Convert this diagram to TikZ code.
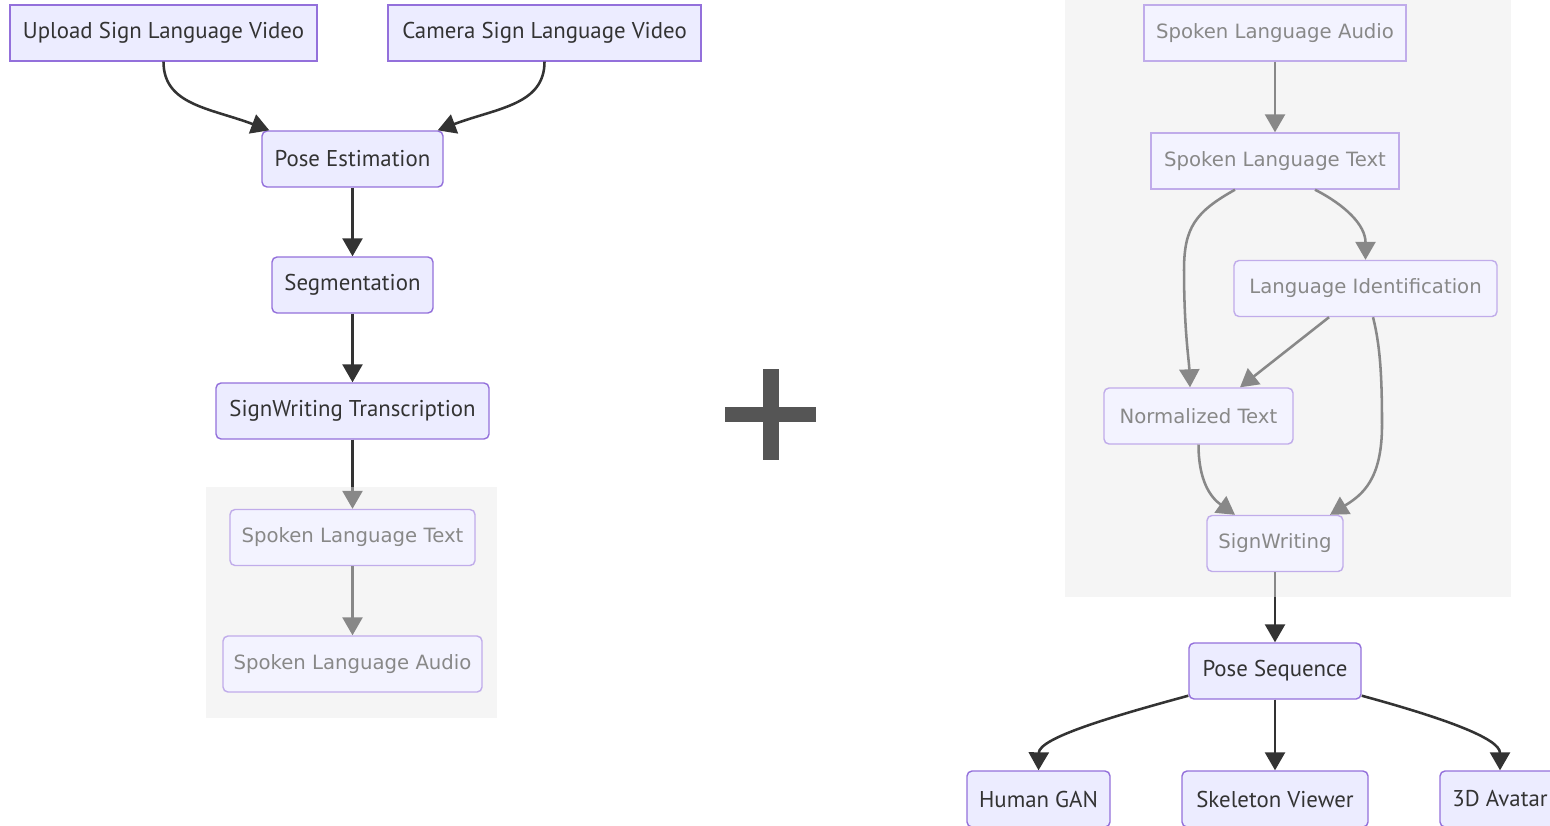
\documentclass[tikz,border=0pt]{standalone}
\usepackage{fontspec}
\usepackage{tikz}
\usetikzlibrary{arrows.meta,calc}
\newfontfamily\darkfont{PT Sans}
\newfontfamily\fadefont{DejaVu Sans}
\newcommand{\pxu}{0.02cm}
\definecolor{nodefill}{HTML}{ECECFF}
\definecolor{nodeline}{HTML}{9370DB}
\definecolor{inkgray}{HTML}{333333}
\definecolor{clustergray}{HTML}{EEEEEE}
\definecolor{plusgray}{HTML}{555555}
\tikzset{
  sqbox/.style={draw=nodeline, fill=nodefill, text=inkgray, line width=0.8pt, minimum height=1.12cm, inner sep=0pt, font=\darkfont\fontsize{13}{15}\selectfont},
  rdbox/.style={sqbox, rounded corners=0.1cm},
  faded/.style={font=\fadefont\fontsize{11.2}{13}\selectfont},
  flow/.style={draw=inkgray, line width=1.45pt, -{Triangle[length=0.36cm,width=0.4cm]}},
  cluster/.style={fill=clustergray},
  veil/.style={fill=white, fill opacity=0.42}
}

\begin{document}
\begin{tikzpicture}[x=\pxu, y=-\pxu]
    \useasboundingbox (0,0) rectangle (1550,825);
    \fill [cluster] (206,487) rectangle (497,718);
    \fill [cluster] (1065,-5) rectangle (1511,597);

    \node[sqbox, minimum width=307*\pxu] (upload) at (163.5,33) {Upload Sign Language Video};
    \node[sqbox, minimum width=313*\pxu] (camera) at (544.5,33) {Camera Sign Language Video};
    \node[rdbox, minimum width=181*\pxu] (pose) at (352.5,159) {Pose Estimation};
    \node[rdbox, minimum width=161*\pxu] (seg) at (352.5,285) {Segmentation};
    \node[rdbox, minimum width=273*\pxu] (swtrans) at (352.5,411) {SignWriting Transcription};
    \node[rdbox, faded, minimum width=245*\pxu] (ltext) at (352.5,537.5) {Spoken Language Text};
    \node[rdbox, faded, minimum width=259*\pxu] (laudio) at (352.5,664) {Spoken Language Audio};

    \draw[flow] (upload.south) .. controls (163.5,105) and (210,108) .. ($(pose.north west)+(8,0)$);
    \draw[flow] (camera.south) .. controls (544.5,105) and (497,108) .. ($(pose.north east)+(-6,0)$);
    \draw[flow] (pose) -- (seg);
    \draw[flow] (seg) -- (swtrans);
    \draw[flow] (swtrans) -- (ltext);
    \draw[flow] (ltext) -- (laudio);

    \fill [plusgray] (725,407) rectangle (816,422);
    \fill [plusgray] (763,369) rectangle (779,460);

    \node[sqbox, faded, minimum width=262*\pxu] (raudio) at (1275,33) {Spoken Language Audio};
    \node[sqbox, faded, minimum width=248*\pxu] (rtext) at (1275,161) {Spoken Language Text};
    \node[rdbox, faded, minimum width=263*\pxu] (langid) at (1365.5,288.5) {Language Identification};
    \node[rdbox, faded, minimum width=189*\pxu] (normtext) at (1198.5,416) {Normalized Text};
    \node[rdbox, faded, minimum width=136*\pxu] (signw) at (1275,543.5) {SignWriting};
    \node[rdbox, minimum width=172*\pxu] (poseseq) at (1275,671) {Pose Sequence};
    \node[rdbox, minimum width=143*\pxu] (humangan) at (1038.5,799) {Human GAN};
    \node[rdbox, minimum width=186*\pxu] (skeleton) at (1275,799) {Skeleton Viewer};
    \node[rdbox, minimum width=120*\pxu] (avatar) at (1500,799) {3D Avatar};

    \draw[flow] (raudio) -- (rtext);
    \draw[flow] ($(rtext.south)+(40,0)$) .. controls (1345,205) and (1365.5,225) .. (langid.north);
    \draw[flow] ($(rtext.south)+(-40,0)$) .. controls (1195,212) and (1184,228) .. (1184,270) .. controls (1184,330) and (1189,360) .. ($(normtext.north)+(-8.5,0)$);
    \draw[flow] ($(langid.south)+(-36.5,0)$) -- ($(normtext.north)+(41.5,0)$);
    \draw[flow] ($(langid.south)+(7.5,0)$) .. controls (1380,345) and (1382,375) .. (1382,425) .. controls (1382,480) and (1362,495) .. ($(signw.north)+(55,0)$);
    \draw[flow] (normtext.south) .. controls (1198.5,480) and (1210,497) .. ($(signw.north)+(-40,0)$);
    \draw[flow] (signw) -- (poseseq);
    \draw[flow] ($(poseseq.south west)+(0,-4)$) .. controls (1110,717) and (1039,738) .. (humangan.north);
    \draw[flow] (poseseq) -- (skeleton);
    \draw[flow] ($(poseseq.south east)+(0,-4)$) .. controls (1440,717) and (1500,738) .. (avatar.north);

    \fill [veil] (206,487) rectangle (497,718);
    \fill [veil] (1065,-5) rectangle (1511,597);
\end{tikzpicture}
\end{document}
